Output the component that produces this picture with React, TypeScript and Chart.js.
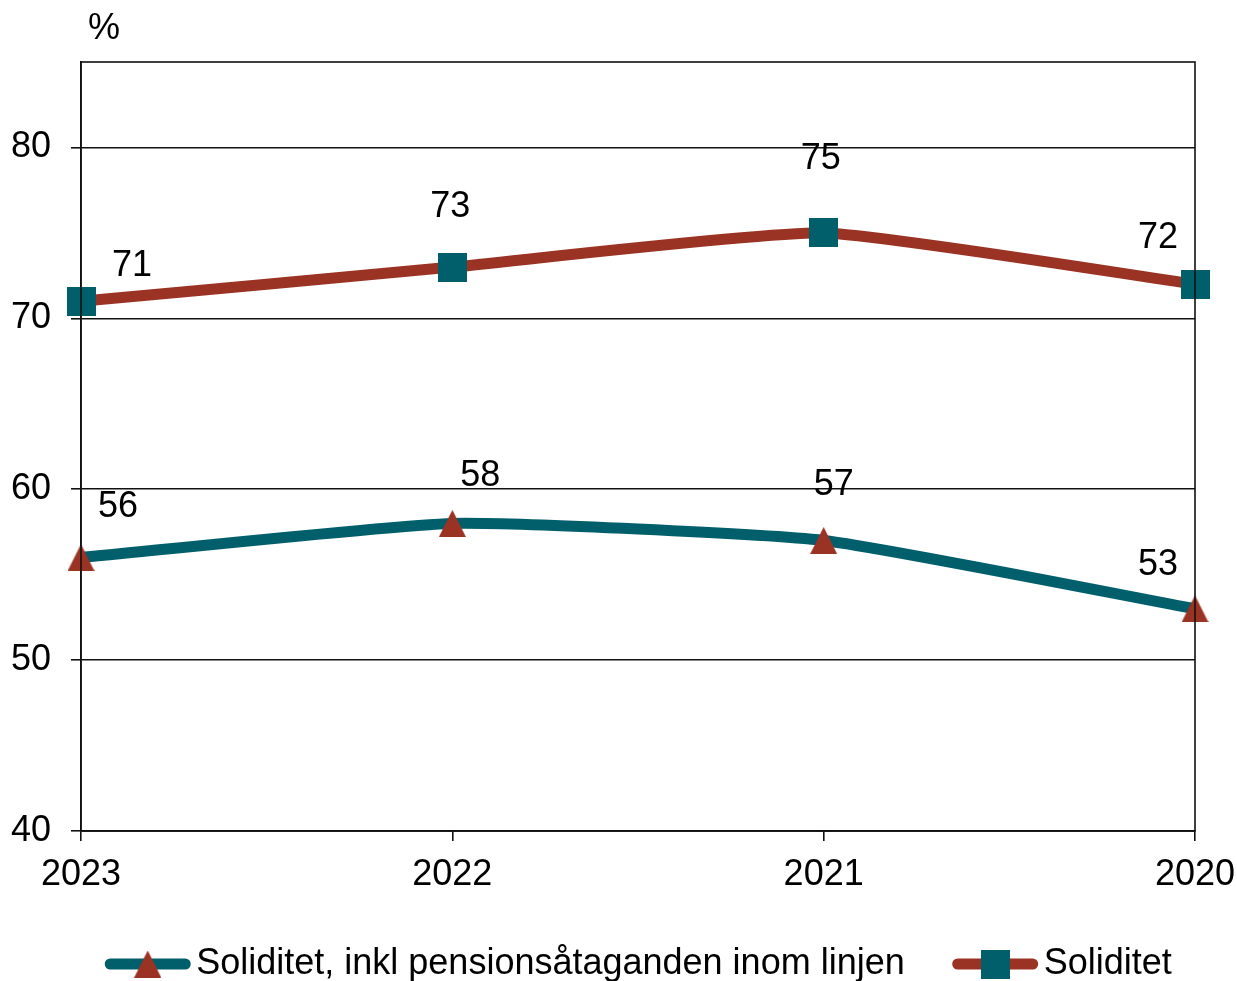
import React, { useEffect, useRef } from "react";
import { Chart, registerables } from "chart.js";

Chart.register(...registerables);

const categories = ["2023", "2022", "2021", "2020"];
const solInkl = [56, 58, 57, 53];
const soliditet = [71, 73, 75, 72];
const seriesNames = ["Soliditet, inkl pensionsåtaganden inom linjen", "Soliditet"];
const yTicks = [40, 50, 60, 70, 80];
const unitLabel = "%";

// label placement offsets (style only)
const inklLabelOffsets = [[37, -50], [28, -47], [10, -55], [-37, -44]];
const solLabelOffsets = [[51, -35], [-2, -60], [-3, -74], [-37, -46]];

const TEAL = "#005f6b";
const RED = "#9b3324";
const FONT = "'Liberation Sans', Arial, sans-serif";
const FS = 36;

function makeSquare(): HTMLCanvasElement {
  const c = document.createElement("canvas");
  c.width = 29; c.height = 29;
  const ctx = c.getContext("2d")!;
  ctx.fillStyle = TEAL;
  ctx.fillRect(0, 0, 29, 29);
  return c;
}
function makeTriangle(): HTMLCanvasElement {
  const c = document.createElement("canvas");
  c.width = 27; c.height = 27;
  const ctx = c.getContext("2d")!;
  ctx.fillStyle = RED;
  ctx.beginPath();
  ctx.moveTo(13.5, 0);
  ctx.lineTo(27, 27);
  ctx.lineTo(0, 27);
  ctx.closePath();
  ctx.fill();
  return c;
}

export default function App() {
  const ref = useRef<HTMLCanvasElement | null>(null);
  useEffect(() => {
    document.body.style.margin = "0";
    const sq = makeSquare();
    const tri = makeTriangle();
    const offsets = [inklLabelOffsets, solLabelOffsets];

    const extras = {
      id: "extras",
      afterDraw(chart: any) {
        const { ctx, chartArea } = chart;
        ctx.save();
        ctx.strokeStyle = "#111";
        ctx.lineWidth = 1.6;
        ctx.strokeRect(chartArea.left, chartArea.top, chartArea.right - chartArea.left, chartArea.bottom - chartArea.top);
        ctx.fillStyle = "#000";
        ctx.font = `${FS}px ${FONT}`;
        ctx.textAlign = "center";
        ctx.textBaseline = "middle";
        ctx.fillText(unitLabel, chartArea.left + 23, 29);
        chart.data.datasets.forEach((ds: any, di: number) => {
          const meta = chart.getDatasetMeta(di);
          meta.data.forEach((pt: any, i: number) => {
            const [dx, dy] = offsets[di][i];
            ctx.fillText(String(ds.data[i]), pt.x + dx, pt.y + dy);
          });
        });
        const lineW = 87;
        const gapText = 5;
        const gapItem = 47;
        const w1 = ctx.measureText(seriesNames[0]).width;
        const w2 = ctx.measureText(seriesNames[1]).width;
        const total = lineW + gapText + w1 + gapItem + lineW + gapText + w2;
        let x = (chartArea.left + chartArea.right) / 2 - total / 2;
        const y = 964;
        const items = [
          { color: TEAL, marker: tri, text: seriesNames[0], w: w1 },
          { color: RED, marker: sq, text: seriesNames[1], w: w2 },
        ];
        items.forEach((it) => {
          ctx.strokeStyle = it.color;
          ctx.lineWidth = 11;
          ctx.lineCap = "round";
          ctx.beginPath();
          ctx.moveTo(x + 6, y);
          ctx.lineTo(x + lineW - 6, y);
          ctx.stroke();
          ctx.drawImage(it.marker, x + lineW / 2 - it.marker.width / 2, y - it.marker.height / 2);
          ctx.fillStyle = "#000";
          ctx.textAlign = "left";
          ctx.fillText(it.text, x + lineW + gapText, y);
          x += lineW + gapText + it.w + gapItem;
        });
        ctx.restore();
      },
    };

    const chart = new Chart(ref.current!, {
      type: "line",
      data: {
        labels: categories,
        datasets: [
          {
            label: seriesNames[0],
            data: solInkl,
            borderColor: TEAL,
            borderWidth: 11,
            tension: 0.15,
            pointStyle: tri as any,
            pointRadius: 14,
          },
          {
            label: seriesNames[1],
            data: soliditet,
            borderColor: RED,
            borderWidth: 11,
            tension: 0.15,
            pointStyle: sq as any,
            pointRadius: 14,
          },
        ],
      },
      options: {
        responsive: false,
        animation: false,
        layout: { padding: { top: 62, right: 42, bottom: 90, left: 0 } },
        plugins: { legend: { display: false }, tooltip: { enabled: false } },
        scales: {
          x: {
            type: "category",
            offset: false,
            grid: { drawOnChartArea: false, drawTicks: true, tickLength: 10, color: "#111", lineWidth: 1.6 },
            border: { display: true, color: "#111", width: 1.6 },
            ticks: { color: "#000", font: { size: FS, family: FONT }, padding: 12, maxRotation: 0, autoSkip: false },
            afterFit: (s: any) => { s.height = 60; s.paddingLeft = 0; s.paddingRight = 0; },
          },
          y: {
            min: 40,
            max: 85,
            afterBuildTicks: (s: any) => { s.ticks = yTicks.map((v) => ({ value: v })); },
            grid: { color: "#111", lineWidth: 1.6, tickLength: 10, drawTicks: true },
            border: { display: true, color: "#111", width: 1.6 },
            ticks: { color: "#000", font: { size: FS, family: FONT }, padding: 20 },
            afterFit: (s: any) => { s.width = 81; s.paddingTop = 0; s.paddingBottom = 0; },
          },
        },
      },
      plugins: [extras],
    });
    return () => chart.destroy();
  }, []);
  return (
    <div style={{ width: 1237, height: 981 }}>
      <canvas ref={ref} width={1237} height={981} style={{ display: "block" }} />
    </div>
  );
}
